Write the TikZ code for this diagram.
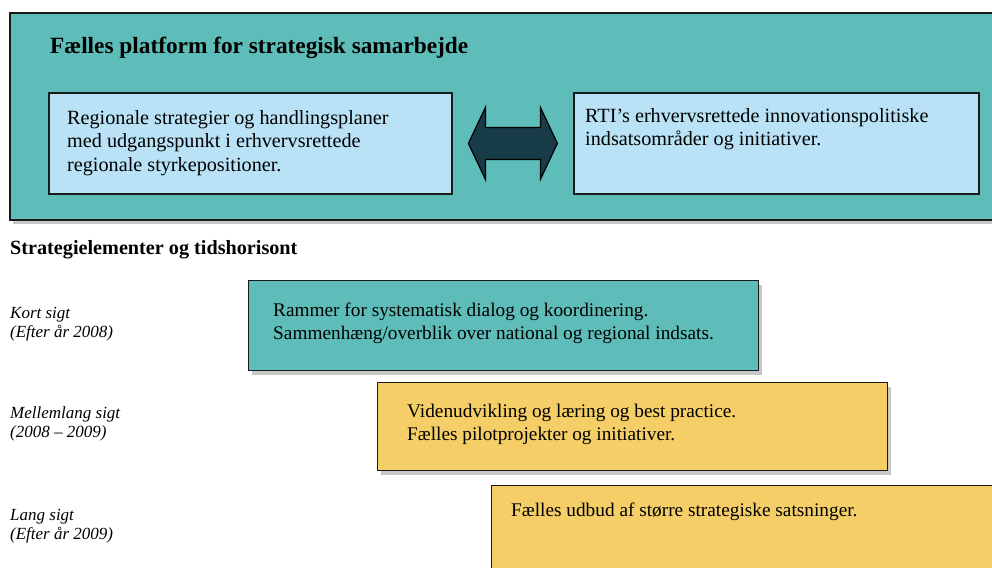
\documentclass[tikz,border=0pt]{standalone}
\usepackage{fontspec}
\setmainfont{Liberation Serif}
\usetikzlibrary{shadows,calc}
\definecolor{tealbox}{HTML}{5EBDB9}
\definecolor{lightblue}{HTML}{B9E2F6}
\definecolor{yellowbox}{HTML}{F5CE68}
\definecolor{arrowdark}{HTML}{173B47}
\definecolor{edge}{HTML}{1A1A1A}
\tikzset{
  shad/.style={drop shadow={shadow xshift=3pt,shadow yshift=-4pt,fill=black,opacity=0.22}},
  outerbox/.style={draw=edge,line width=2.4pt,fill=tealbox,shad},
  innerbox/.style={draw=edge,line width=1.8pt,fill=lightblue},
  stagebox/.style={draw=edge,line width=1.4pt,shad},
  toptxt/.style={anchor=base west,inner sep=0pt,font=\fontsize{20.2}{23.8}\selectfont,align=left},
  bodytxt/.style={anchor=base west,inner sep=0pt,font=\fontsize{19.3}{23.3}\selectfont,align=left},
  labtxt/.style={anchor=base west,inner sep=0pt,font=\fontsize{17}{19.5}\selectfont\itshape,align=left},
}
\begin{document}
\begin{tikzpicture}[x=1pt,y=-1pt]
\useasboundingbox (0,0) rectangle (992,567);
\clip (0,0) rectangle (992,567);
% outer platform box
\path[outerbox] (10,13) rectangle (1010,220);
\node[anchor=base west,inner sep=0pt,font=\fontsize{23.3}{27}\selectfont\bfseries] (title) at (50,54) {Fælles platform for strategisk samarbejde};
% inner boxes
\node[innerbox,anchor=north west,minimum width=403pt,minimum height=101pt,inner sep=0pt] (left) at (48,92) {};
\node[innerbox,anchor=north west,minimum width=405pt,minimum height=101pt,inner sep=0pt] (right) at (573,92) {};
% (base anchor of a multi-line node = baseline of its last line)
\node[toptxt] (lefttxt) at (67,171.6) {Regionale strategier og handlingsplaner\\med udgangspunkt i erhvervsrettede\\regionale styrkepositioner.};
\node[toptxt] (righttxt) at (585,145.8) {RTI’s erhvervsrettede innovationspolitiske\\indsatsområder og initiativer.};
% double arrow between the two inner boxes
\coordinate (ac) at ($(left.east)!0.5!(right.west)$);
\path[draw=black,line width=1.2pt,fill=arrowdark,line join=miter]
  ($(ac)+(-44.5,0)$) -- ($(ac)+(-27.5,-36)$) -- ($(ac)+(-27.5,-16)$) -- ($(ac)+(27.5,-16)$)
  -- ($(ac)+(27.5,-36)$) -- ($(ac)+(44.5,0)$) -- ($(ac)+(27.5,36)$) -- ($(ac)+(27.5,16)$)
  -- ($(ac)+(-27.5,16)$) -- ($(ac)+(-27.5,36)$) -- cycle;
% heading
\node[anchor=base west,inner sep=0pt,font=\fontsize{20.2}{23}\selectfont\bfseries] (head) at (10,254) {Strategielementer og tidshorisont};
% labels
\node[labtxt] (kort) at (10,337.5) {Kort sigt\\(Efter år 2008)};
\node[labtxt] (mellem) at (10,437.5) {Mellemlang sigt\\(2008 – 2009)};
\node[labtxt] (lang) at (10,539.5) {Lang sigt\\(Efter år 2009)};
% stage boxes
\node[stagebox,fill=tealbox,anchor=north west,minimum width=510pt,minimum height=90pt,inner sep=0pt] (s1) at (248,280) {};
\node[bodytxt] (s1txt) at (273,339.3) {Rammer for systematisk dialog og koordinering.\\Sammenhæng/overblik over national og regional indsats.};
\node[stagebox,fill=yellowbox,anchor=north west,minimum width=510pt,minimum height=88pt,inner sep=0pt] (s2) at (377,382) {};
\node[bodytxt] (s2txt) at (407,440.3) {Videnudvikling og læring og best practice.\\Fælles pilotprojekter og initiativer.};
\node[stagebox,fill=yellowbox,anchor=north west,minimum width=530pt,minimum height=100pt,inner sep=0pt] (s3) at (491,485) {};
\node[bodytxt] (s3txt) at (511,516) {Fælles udbud af større strategiske satsninger.};
\end{tikzpicture}
\end{document}
